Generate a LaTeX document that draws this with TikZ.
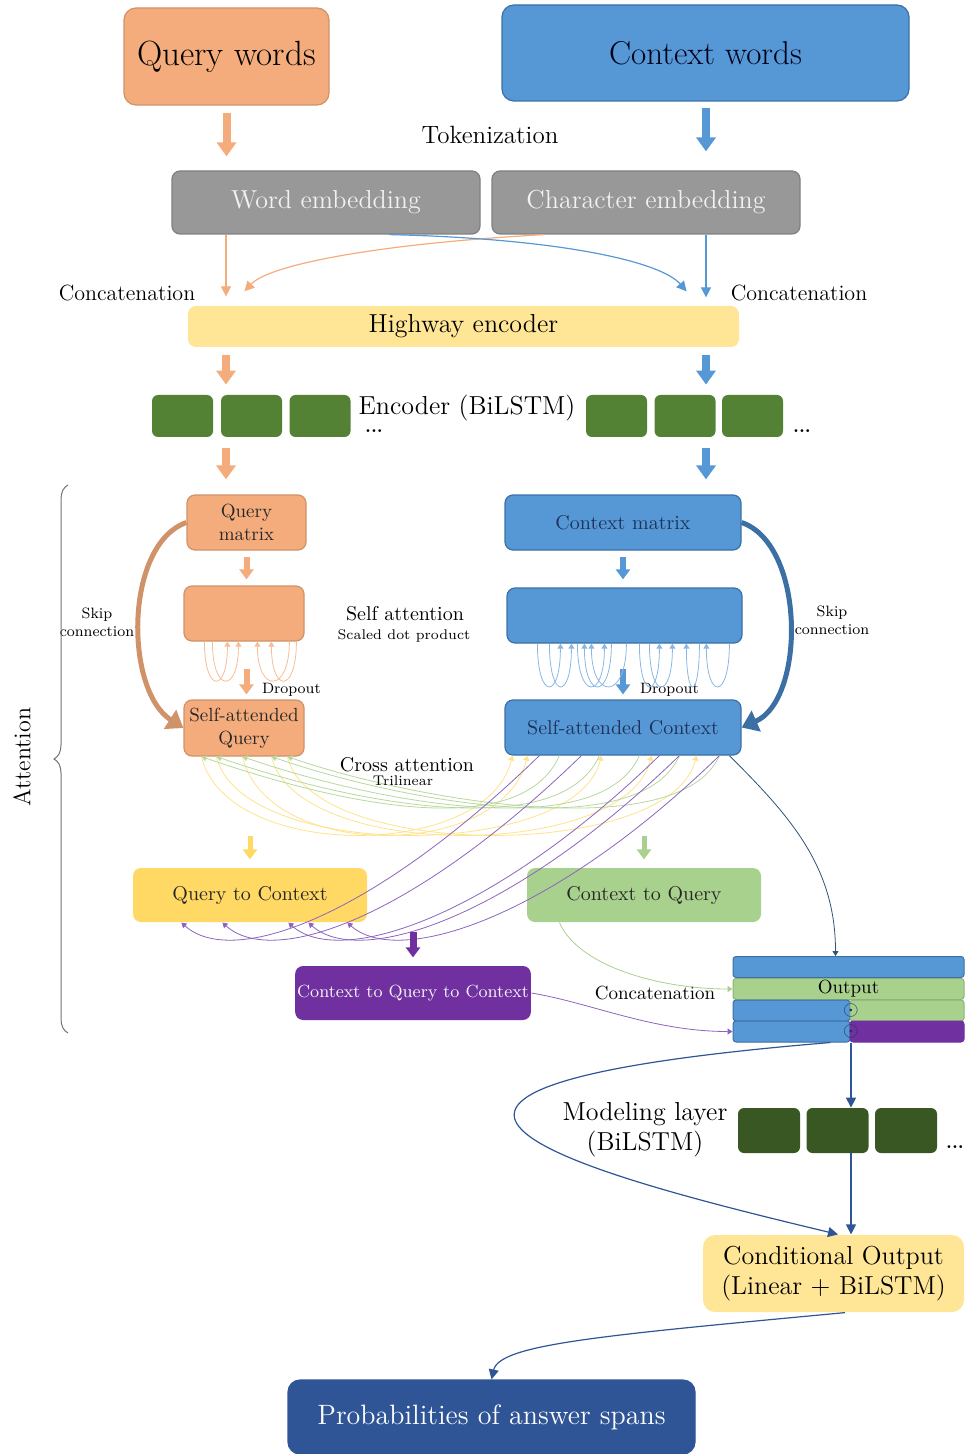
\documentclass[tikz,border=0pt]{standalone}
\usepackage{xcolor}
\usepackage{tikz}
\usetikzlibrary{arrows.meta,calc,decorations.pathreplacing}
\definecolor{qorange}{RGB}{244,172,124}
\definecolor{cblue}{RGB}{86,152,214}
\definecolor{cblueline}{RGB}{60,112,165}
\definecolor{embgray}{RGB}{152,152,152}
\definecolor{hwyellow}{RGB}{255,230,150}
\definecolor{qcyellow}{RGB}{255,217,100}
\definecolor{cqgreen}{RGB}{169,209,142}
\definecolor{cqcpurple}{RGB}{112,48,160}
\definecolor{attpurple}{RGB}{140,100,190}
\definecolor{encgreen}{RGB}{84,130,53}
\definecolor{modgreen}{RGB}{56,87,35}
\definecolor{probblue}{RGB}{47,85,151}
\definecolor{navytext}{RGB}{30,50,90}
\tikzset{
  box/.style={rectangle, rounded corners=4pt, align=center, inner sep=1pt, line width=0.6pt},
  qbox/.style={box, fill=qorange, draw=qorange!85!black, text=black!85},
  cbox/.style={box, fill=cblue, draw=cblueline, text=navytext},
  embbox/.style={box, fill=embgray, draw=black!50, text=white!90!gray,
                 minimum width=154pt, minimum height=31.5pt, font=\fontsize{13}{15}\selectfont},
  lstm/.style={rectangle, rounded corners=3pt, fill=encgreen, inner sep=0pt,
               minimum width=30.5pt, minimum height=21pt},
  attbox/.style={box, minimum width=117pt, minimum height=27pt, font=\fontsize{10}{12}\selectfont},
  orow/.style={rectangle, rounded corners=1.5pt, inner sep=0pt, minimum height=10.5pt,
               line width=0.5pt, font=\fontsize{9.5}{11}\selectfont},
  fatarrow/.style={line width=4pt, -{Triangle[width=9.5pt,length=7pt]}},
  medarrow/.style={line width=3pt, -{Triangle[width=7pt,length=5pt]}},
  slim/.style={line width=0.6pt, -{Triangle[width=5pt,length=5pt]}},
  hair/.style={line width=0.4pt, -{Triangle[width=3pt,length=2.5pt]}},
  skiparrow/.style={line width=2.5pt, -{Triangle[width=11pt,length=8pt]}},
  lbl/.style={align=center, font=\fontsize{10}{12}\selectfont},
  smalllbl/.style={align=center, font=\fontsize{7.5}{9}\selectfont},
  dotslbl/.style={inner sep=0pt, font=\bfseries\small},
}

\begin{document}
\begin{tikzpicture}[x=0.5pt,y=-0.5pt]
  \useasboundingbox (0,0) rectangle (964,1454);
  \coordinate (qcol) at (226,0);
  \coordinate (ccol) at (706,0);
  % inputs and embeddings
  \node[qbox, rounded corners=6pt, text=black, minimum width=102.5pt, minimum height=48.5pt,
        font=\fontsize{17.5}{20}\selectfont] (qwords) at (226.5,56.5) {Query words};
  \node[cbox, rounded corners=6pt, text=black!90!blue, minimum width=203.5pt, minimum height=48pt,
        font=\fontsize{16.5}{20}\selectfont] (cwords) at (705.5,53) {Context words};
  \node[font=\fontsize{12.5}{15}\selectfont] (tok) at (490,135) {Tokenization};
  \node[embbox] (wemb) at (326,202.5) {Word embedding};
  \node[embbox] (cemb) at (646,202.5) {Character embedding};
  \node[font=\fontsize{11}{13}\selectfont] (concl) at (127,293) {Concatenation};
  \node[font=\fontsize{11}{13}\selectfont] (concr) at (799,293) {Concatenation};
  \node[box, fill=hwyellow, draw=none, minimum width=275.5pt, minimum height=20.5pt,
        font=\fontsize{13}{15}\selectfont] (hwy) at (463.5,326.5) {Highway encoder};

  \draw[fatarrow, qorange, shorten <=3.5pt, shorten >=7pt] (qwords.south) -- (qwords.south |- wemb.north);
  \draw[fatarrow, cblue, shorten <=3pt, shorten >=9.5pt] (ccol |- cwords.south) -- (ccol |- cemb.north);
  \draw[slim, qorange, shorten >=4.5pt] (qcol |- wemb.south) -- (qcol |- hwy.north);
  \draw[slim, cblue, shorten >=4pt] (ccol |- cemb.south) -- (ccol |- hwy.north);
  \draw[slim, qorange] ([xshift=26.5pt]cemb.south west) .. controls +(-165,9) and +(25,-27) .. ([shift={(28.5pt,7pt)}]hwy.north west);
  \draw[slim, cblue] ([xshift=109pt]wemb.south west) .. controls +(170,4) and +(-26,-30) .. ([shift={(-26.5pt,7pt)}]hwy.north east);

  % encoder
  \node[lstm] (enc1) at (182.5,416) {};
  \node[lstm] (enc2) at (251.5,416) {};
  \node[lstm] (enc3) at (320,416) {};
  \node[lstm] (enc4) at (616.5,416) {};
  \node[lstm] (enc5) at (685,416) {};
  \node[lstm] (enc6) at (752.5,416) {};
  \node[font=\fontsize{13}{15}\selectfont] (enclbl) at (467,408) {Encoder (BiLSTM)};
  \node[dotslbl] (dots1) at (374,431) {...};
  \node[dotslbl] (dots2) at (802,431) {...};
  \draw[fatarrow, qorange, shorten <=3.5pt, shorten >=5pt] (qcol |- hwy.south) -- (qcol |- enc1.north);
  \draw[fatarrow, cblue, shorten <=3.5pt, shorten >=5pt] (ccol |- hwy.south) -- (ccol |- enc5.north);

  % attention
  \node[qbox, minimum width=59.5pt, minimum height=27.5pt, font=\fontsize{9.5}{11.5}\selectfont] (qmat) at (246.5,522.5) {Query\\matrix};
  \node[qbox, minimum width=60pt, minimum height=27.5pt] (qself) at (244,613.5) {};
  \node[qbox, minimum width=60pt, minimum height=28pt, font=\fontsize{9.5}{11.5}\selectfont] (qsatt) at (244,728) {Self-attended\\Query};
  \node[cbox, minimum width=118pt, minimum height=27.5pt, font=\fontsize{10}{12}\selectfont] (cmat) at (623,522.5) {Context matrix};
  \node[cbox, minimum width=117.5pt, minimum height=27.5pt] (cself) at (624.5,615.5) {};
  \node[cbox, minimum width=118pt, minimum height=27.5pt, font=\fontsize{10}{12}\selectfont] (csatt) at (623,727.5) {Self-attended Context};
  \draw[fatarrow, qorange, shorten <=5.5pt, shorten >=7.5pt] (qcol |- enc1.south) -- (qcol |- qmat.north);
  \draw[fatarrow, cblue, shorten <=5.5pt, shorten >=7.5pt] (ccol |- enc5.south) -- (ccol |- cmat.north);

  \draw[medarrow, qorange, shorten <=3pt, shorten >=3pt] (qmat.south) -- (qmat.south |- qself.north);
  \draw[medarrow, qorange, shorten <=13.5pt, shorten >=2.5pt] (qmat.south |- qself.south) -- (qmat.south |- qsatt.north);
  \draw[medarrow, cblue, shorten <=3pt, shorten >=4pt] (cmat.south) -- (cmat.south |- cself.north);
  \draw[medarrow, cblue, shorten <=12.5pt, shorten >=2.5pt] (cmat.south |- cself.south) -- (cmat.south |- csatt.north);
  \node[smalllbl, anchor=west] (dropq) at (255,690) {Dropout};
  \node[smalllbl, anchor=west] (dropc) at (633,690) {Dropout};

  % self attention loops
  \foreach \a/\b in {21/44, 29/55, 106/74, 113/88}
    \draw[hair, qorange!80] ([xshift=\a*0.5pt]qself.south west) .. controls +(0,52) and +(0,52) .. ([xshift=\b*0.5pt]qself.south west);
  \foreach \a/\b in {31/54, 43/65, 105/78, 120/85, 71/98, 143/166, 133/153, 193/180, 223/200}
    \draw[hair, cblue!70] ([xshift=\a*0.5pt]cself.south west) .. controls +(0,57) and +(0,57) .. ([xshift=\b*0.5pt]cself.south west);
  \node[lbl] (selfatt) at (405,614) {Self attention};
  \node[font=\fontsize{7}{8}\selectfont] (sdp) at (404,636) {Scaled dot product};

  % skip connections
  \draw[skiparrow, qorange!85!black] (qmat.west) .. controls +(-62,22) and +(-59,-38) .. (qsatt.west);
  \draw[skiparrow, cblueline] (cmat.east) .. controls +(64,22) and +(64,-28) .. (csatt.east);
  \node[smalllbl] (skipq) at (97,622) {Skip\\connection};
  \node[smalllbl] (skipc) at (832,620) {Skip\\connection};

  % cross attention
  \node[attbox, fill=qcyellow, draw=none, text=black!85] (qtoc) at (250,895) {Query to Context};
  \node[attbox, fill=cqgreen, draw=none, text=black!85] (ctoq) at (644,895) {Context to Query};
  \node[attbox, fill=cqcpurple, draw=none, text=white!92!gray, font=\fontsize{8.8}{10}\selectfont] (cqc) at (413,993) {Context to Query to Context};
  \foreach \a/\b in {18/8, 33/97, 59/23, 88/147, 104/192}
    \draw[hair, qcyellow!75] ([xshift=\a*0.5pt]qsatt.south west) .. controls +(25,105) and +(-25,105) .. ([xshift=\b*0.5pt]csatt.south west);
  \foreach \a/\b in {55/18, 95/33, 135/59, 175/88, 215/104}
    \draw[hair, cqgreen!85] ([xshift=\a*0.5pt]csatt.south west) .. controls +(-40,90) and +(130,45) .. ([xshift=\b*0.5pt]qsatt.south west);
  \foreach \a/\b in {35/49, 77/90, 155/156, 175/176, 215/215}
    \draw[hair, attpurple] ([xshift=\a*0.5pt]csatt.south west) .. controls +(-170,165) and +(50,45) .. ([xshift=\b*0.5pt]qtoc.south west);
  \node[lbl] (crossatt) at (407,765) {Cross attention};
  \node[font=\fontsize{7}{8}\selectfont] (tril) at (403,781) {Trilinear};

  \coordinate (qcin) at (250,836);
  \coordinate (cqin) at (644,836);
  \coordinate (cqcin) at (413,932);
  \draw[medarrow, qcyellow, line width=2.5pt, shorten >=4pt] (qcin) -- (qcin |- qtoc.north);
  \draw[medarrow, cqgreen, line width=2.5pt, shorten >=4pt] (cqin) -- (cqin |- ctoq.north);
  \draw[medarrow, cqcpurple, line width=3.5pt, shorten >=4pt] (cqcin) -- (cqcin |- cqc.north);

  % output
  \node[orow, fill=cblue, draw=cblueline, minimum width=115.5pt] (out1) at (848.5,967) {};
  \node[orow, fill=cqgreen, draw=cqgreen!85!black, minimum width=115.5pt] (out2) at (848.5,989) {Output};
  \node[orow, fill=cblue, draw=cblueline, minimum width=58.5pt] (out3a) at (791.5,1010.5) {};
  \node[orow, fill=cqgreen, draw=cqgreen!85!black, minimum width=57pt] (out3b) at (907,1010.5) {};
  \node[orow, fill=cblue, draw=cblueline, minimum width=58.5pt] (out4a) at (791.5,1031.5) {};
  \node[orow, fill=cqcpurple, draw=cqcpurple, minimum width=57pt] (out4b) at (907,1031.5) {};
  \node[inner sep=0pt, text=navytext] (dotA) at (851,1010) {$\odot$};
  \node[inner sep=0pt, text=navytext] (dotB) at (851,1031) {$\odot$};
  \node[font=\fontsize{9.5}{11}\selectfont] (conc2) at (655,993) {Concatenation};
  \draw[hair, black!45!cblue] ([xshift=112.5pt]csatt.south west) .. controls +(60,60) and +(0,-90) .. ([xshift=-6.5pt]out1.north);
  \draw[hair, cqgreen] ([xshift=16.5pt]ctoq.south west) .. controls +(20,45) and +(-70,0) .. (out2.west);
  \draw[hair, attpurple] (cqc.east) .. controls +(60,10) and +(-80,0) .. (out4a.west);

  % modeling and answer
  \node[lstm, fill=modgreen, minimum width=31pt, minimum height=22.5pt] (mod1) at (769,1130.5) {};
  \node[lstm, fill=modgreen, minimum width=31pt, minimum height=22.5pt] (mod2) at (837.5,1130.5) {};
  \node[lstm, fill=modgreen, minimum width=31pt, minimum height=22.5pt] (mod3) at (906,1130.5) {};
  \node[dotslbl] (dots3) at (955,1147) {...};
  \node[align=center, font=\fontsize{13}{15}\selectfont] (modlbl) at (645,1130) {Modeling layer\\(BiLSTM)};
  \node[box, fill=hwyellow, draw=none, rounded corners=6pt, minimum width=130.5pt, minimum height=38.5pt,
        font=\fontsize{13}{15}\selectfont] (cond) at (833.5,1273.5) {Conditional Output\\(Linear + BiLSTM)};
  \node[box, fill=probblue, draw=probblue, text=white, rounded corners=6pt, minimum width=203.5pt,
        minimum height=37pt, font=\fontsize{14}{16}\selectfont] (prob) at (491.5,1417) {Probabilities of answer spans};
  \draw[slim, probblue] (dotB |- out4a.south) -- (dotB |- mod2.north);
  \draw[slim, probblue] (dotB |- mod2.south) -- (dotB |- cond.north);
  \draw[slim, probblue] ([xshift=-10pt]out4a.south east) .. controls +(-570,47) and +(-250,-60) .. ([xshift=2.25pt]cond.north);
  \draw[slim, probblue] ([xshift=5.75pt]cond.south) .. controls +(-245,23) and +(8,-35) .. (prob.north);

  % attention brace
  \draw[black!55, line width=0.5pt, decorate, decoration={brace, amplitude=7pt}] (68,1033) -- (68,485);
  \node[rotate=90, font=\fontsize{12}{14}\selectfont] (attn) at (22,757) {Attention};
\end{tikzpicture}
\end{document}
